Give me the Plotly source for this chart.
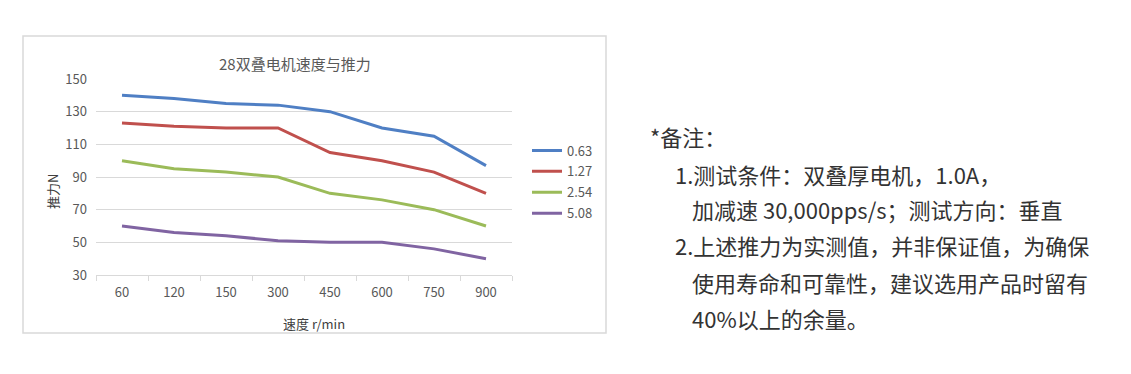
import plotly.graph_objects as go

W, H = 1131, 374

categories = ["60", "120", "150", "300", "450", "600", "750", "900"]
series_names = ["0.63", "1.27", "2.54", "5.08"]
s063 = [140, 138, 135, 134, 130, 120, 115, 97]
s127 = [123, 121, 120, 120, 105, 100, 93, 80]
s254 = [100, 95, 93, 90, 80, 76, 70, 60]
s508 = [60, 56, 54, 51, 50, 50, 46, 40]
series_values = [s063, s127, s254, s508]
colors = ["#4F7FC4", "#C0504D", "#9BBB59", "#8064A2"]
y_ticks = [30, 50, 70, 90, 110, 130, 150]

note_lines = [
    "*备注：",
    "1.测试条件：双叠厚电机，1.0A，",
    "加减速 30,000pps/s；测试方向：垂直",
    "2.上述推力为实测值，并非保证值，为确保",
    "使用寿命和可靠性，建议选用产品时留有",
    "40%以上的余量。",
]
note_x = [648, 673, 690, 673, 690, 690]
note_y = [136, 174, 209, 245, 282, 318]


def px(x):
    return x / W


def py(y):
    return 1 - y / H


FONT = "Noto Sans CJK SC"
GRAY = "#595959"
GRID = "#D9D9D9"

fig = go.Figure()
for name, vals, col in zip(series_names, series_values, colors):
    fig.add_trace(go.Scatter(
        x=categories, y=vals, name=name, mode="lines", legendgroup=name,
        line=dict(color=col, width=3),
    ))

fig.update_layout(
    width=W, height=H, autosize=False,
    margin=dict(l=0, r=0, t=0, b=0, pad=0, autoexpand=False),
    paper_bgcolor="white", plot_bgcolor="white",
    font=dict(family=FONT, color=GRAY, size=13),
    showlegend=True,
    legend=dict(
        x=px(527), y=py(135.5), xanchor="left", yanchor="top",
        font=dict(size=13, color=GRAY, family=FONT),
        bgcolor="rgba(0,0,0,0)", itemwidth=30, tracegroupgap=1,
    ),
    xaxis=dict(
        domain=[px(96), px(512)],
        type="category", range=[-0.5, 7.5],
        showgrid=False, showline=True, linecolor=GRID, linewidth=1,
        ticks="outside", tickson="boundaries", ticklen=5, tickcolor=GRID,
        tickfont=dict(size=13, color=GRAY), zeroline=False,
        anchor="y", automargin=False, ticklabelstandoff=5,
    ),
    yaxis=dict(
        domain=[py(275), py(79)],
        range=[30, 150], tickvals=y_ticks,
        showgrid=True, gridcolor=GRID, gridwidth=1,
        showline=False, zeroline=False, ticks="",
        tickfont=dict(size=13, color=GRAY), automargin=False,
        ticklabelstandoff=8,
    ),
)

# chart border
fig.add_shape(type="rect", xref="paper", yref="paper",
              x0=px(23), x1=px(606), y0=py(333), y1=py(36),
              line=dict(color=GRID, width=1.5), layer="below")

# titles
fig.add_annotation(text="28双叠电机速度与推力", xref="paper", yref="paper",
                   x=px(295), y=py(63), xanchor="center", yanchor="middle",
                   showarrow=False,
                   font=dict(size=15, color=GRAY, family=FONT))
fig.add_annotation(text="推力N", xref="paper", yref="paper",
                   x=px(52), y=py(192), xanchor="center", yanchor="middle",
                   showarrow=False, textangle=-90,
                   font=dict(size=13, color="#404040", family=FONT))
fig.add_annotation(text="速度 r/min", xref="paper", yref="paper",
                   x=px(314), y=py(323), xanchor="center", yanchor="middle",
                   showarrow=False,
                   font=dict(size=13, color="#404040", family=FONT))

for t, x, y in zip(note_lines, note_x, note_y):
    fig.add_annotation(text=t, xref="paper", yref="paper",
                       x=px(x), y=py(y), xanchor="left", yanchor="middle",
                       showarrow=False,
                       font=dict(size=22, color="#333333", family=FONT))

fig.write_html("out.html", config={"responsive": False, "displayModeBar": False},
               post_script="document.body.style.margin='0';document.body.style.overflow='hidden';")
